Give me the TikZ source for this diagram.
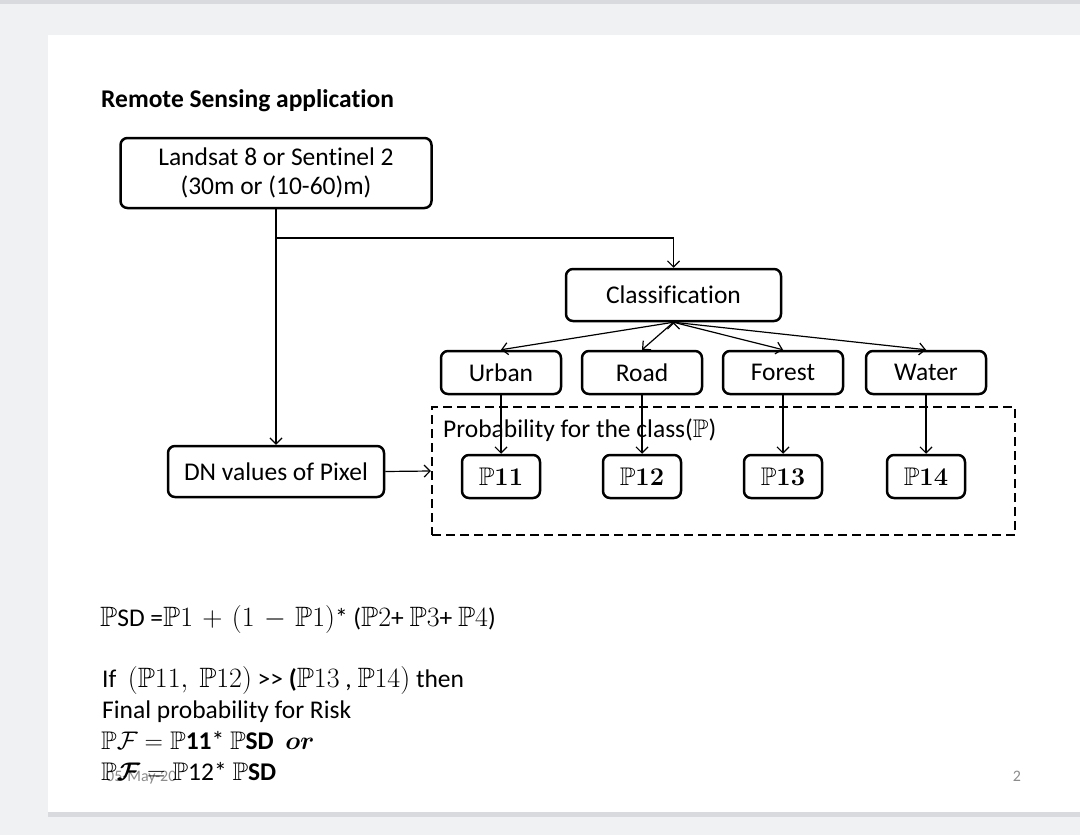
\documentclass[tikz,border=0pt]{standalone}
\usepackage{fix-cm}
\usepackage{amsmath}
\usepackage{amssymb}
\usepackage[no-math]{fontspec}
\setmainfont{Carlito}[Ligatures={TeX,NoCommon}]
\usepackage{tikz}
\usetikzlibrary{positioning, arrows.meta}
\definecolor{slidegrey}{HTML}{F0F1F3}
\definecolor{shadegrey}{HTML}{D9DADD}
\definecolor{footgrey}{HTML}{8C8C8C}
\newcommand{\slidefont}{\fontsize{25.5pt}{31pt}\selectfont}
\newcommand{\bigmath}[1]{{\fontsize{28pt}{31pt}\selectfont$\medmuskip=6mu plus 2mu minus 4mu #1$}}

\tikzset{
  box/.style={draw, rounded corners=7pt, line width=2.5pt, inner sep=0pt, align=center, font=\slidefont},
  classbox/.style={box, minimum width=120pt, minimum height=43pt},
  probbox/.style={box, minimum width=78pt, minimum height=43pt},
  conn/.style={line width=1.2pt, -{Straight Barb[length=6pt,width=12pt]}},
  textline/.style={anchor=base west, inner sep=0pt, font=\slidefont},
}

\begin{document}
\begin{tikzpicture}[x=1pt,y=-1pt]
\useasboundingbox (0,0) rectangle (1080,835);
\fill[slidegrey] (0,0) rectangle (1080,835);
\fill[shadegrey] (0,0) rectangle (1080,4);
\fill[shadegrey] (48,812) rectangle (1080,817);
\fill[white] (48,35) rectangle (1080,812);

\node[textline, font=\slidefont\bfseries] (title) at (101,107) {Remote Sensing application};
\node[box, minimum width=311pt, minimum height=70pt] (landsat) at (276,173) {Landsat 8 or Sentinel 2\\[-2pt](30m or (10-60)m)};
\node[box, minimum width=215pt, minimum height=52pt] (classif) at (673.5,295) {Classification};
\node[classbox] (urban) at (501,372.5) {Urban};
\node[classbox, right=18.5pt of urban] (road) {Road};
\node[classbox, right=18.5pt of road] (forest) {Forest};
\node[classbox, right=20.5pt of forest] (water) {Water};
\node[draw, dashed, dash pattern=on 9pt off 5pt, line width=2.2pt, minimum width=583pt, minimum height=128pt, inner sep=0pt] (probarea) at (723.5,471) {};
\node[textline] (problabel) at (443,437) {Probability for the class($\mathbb{P}$)};
\node[probbox, below=58.5pt of urban] (p11) {$\mathbb{P}\mathbf{11}$};
\node[probbox, below=58.5pt of road] (p12) {$\mathbb{P}\mathbf{12}$};
\node[probbox, below=58.5pt of forest] (p13) {$\mathbb{P}\mathbf{13}$};
\node[probbox, below=58.5pt of water] (p14) {$\mathbb{P}\mathbf{14}$};
\node[box, minimum width=216pt, minimum height=51pt] (dn) at (276,471.5) {DN values of Pixel};
\coordinate (split) at (276,238);

\draw[conn] (landsat.south) -- (dn.north);
\draw[conn] (split) -| (classif.north);
\draw[conn] (classif.south) edge (urban.north) edge (road.north) edge (forest.north) edge (water.north);
\draw[conn] (urban) edge (p11)
            (road) edge (p12)
            (forest) edge (p13)
            (water) edge (p14);
\draw[conn] (dn.east) -- (probarea.west);

%formulas
\node[textline] (psd) at (100,626) {\bigmath{\mathbb{P}}SD =\bigmath{\mathbb{P}1 + (1 - \mathbb{P}1)}* (\bigmath{\mathbb{P}2}+ \bigmath{\mathbb{P}3}+ \bigmath{\mathbb{P}4})};
\node[textline] (cond) at (102,687) {If\ \ \bigmath{(\mathbb{P}11,\ \mathbb{P}12)} >{}> \textbf{(}\bigmath{\mathbb{P}13} , \bigmath{\mathbb{P}14)} then};
\node[textline] (final) at (102,718) {Final probability for Risk};
\node[textline, font=\fontsize{16pt}{19pt}\selectfont, text=footgrey] (date) at (106,781) {05-May-20};
\node[textline] (pfone) at (101,749) {$\mathbb{P}\mathcal{F} = \mathbb{P}$\textbf{11}* $\mathbb{P}$\textbf{SD}\ \ $\boldsymbol{or}$};
\node[textline] (pftwo) at (101,780) {$\mathbb{P}\boldsymbol{\mathcal{F}} = \mathbb{P}$12* $\mathbb{P}$\textbf{SD}};
\node[font=\fontsize{16pt}{19pt}\selectfont, text=footgrey, inner sep=0pt] (pagenum) at (1017,776) {2};
\end{tikzpicture}
\end{document}
